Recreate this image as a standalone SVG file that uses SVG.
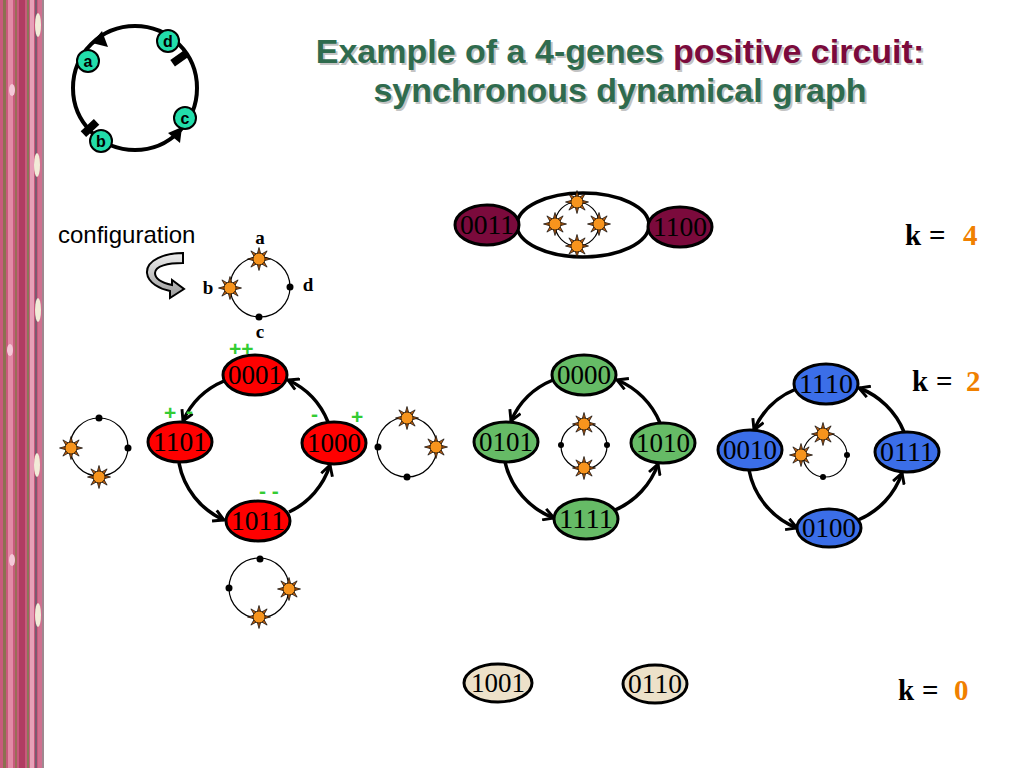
<svg xmlns="http://www.w3.org/2000/svg" xmlns:xlink="http://www.w3.org/1999/xlink" width="1024" height="768" viewBox="0 0 1024 768">
<style>
.st{font-family:"Liberation Serif","Times New Roman",serif;font-size:28px;fill:#000;text-anchor:middle}
.nd{stroke:#000;stroke-width:3}
.red{fill:#ff0000}.grn{fill:#66bb66}.blu{fill:#3b6ee8}.mar{fill:#7b0a3c}.bei{fill:#ede1c9}
.edge{fill:none;stroke:#000;stroke-width:3.5;marker-end:url(#arr)}
.sc{fill:none;stroke:#000;stroke-width:1.2}
.dot{fill:#000}
.sign{font-family:"Liberation Sans",Arial,sans-serif;font-size:21px;fill:#33cc33;font-weight:bold}
.kt{font-family:"Liberation Serif","Times New Roman",serif;font-size:29px;font-weight:bold;fill:#000}
.ko{fill:#f08000}
.title{font-family:"Liberation Sans",Arial,sans-serif;font-size:34px;font-weight:bold;text-anchor:middle}
.lbl{font-family:"Liberation Serif","Times New Roman",serif;font-size:19px;font-weight:bold;fill:#000;text-anchor:middle}
.gn{fill:#22ddaa;stroke:#000;stroke-width:2}
.gl{font-family:"Liberation Sans",Arial,sans-serif;font-size:16px;font-weight:bold;text-anchor:middle;fill:#000}
</style>
<defs>
<marker id="arr" viewBox="0 0 12 12" refX="10" refY="6" markerWidth="14" markerHeight="14" markerUnits="userSpaceOnUse" orient="auto">
<path d="M1,1 L10,6 L1,11" fill="none" stroke="#000" stroke-width="2.5"/>
</marker>
<g id="sun">
<polygon points="11.5,0 4.6,1.9 8.1,8.1 1.9,4.6 0,11.5 -1.9,4.6 -8.1,8.1 -4.6,1.9 -11.5,0 -4.6,-1.9 -8.1,-8.1 -1.9,-4.6 0,-11.5 1.9,-4.6 8.1,-8.1 4.6,-1.9" fill="#b85c10" stroke="#000" stroke-width="0.7"/>
<circle r="6" fill="#f7941d" stroke="#000" stroke-width="0.7"/>
</g>
<linearGradient id="gg" x1="0" y1="0" x2="0" y2="1">
<stop offset="0" stop-color="#eeeeee"/><stop offset="1" stop-color="#999999"/>
</linearGradient>
</defs>
<rect width="1024" height="768" fill="#fff"/>
<!-- decorative strip -->
<g id="strip">
<rect x="0" y="0" width="43" height="768" fill="#c85a7c"/>
<rect x="3" y="0" width="3" height="768" fill="#8c7050"/>
<rect x="8" y="0" width="5" height="768" fill="#e38aa6"/>
<rect x="15" y="0" width="2" height="768" fill="#9a6e58"/>
<rect x="19" y="0" width="6" height="768" fill="#b03c62"/>
<rect x="27" y="0" width="2" height="768" fill="#8a7658"/>
<rect x="30" y="0" width="4" height="768" fill="#e7a0b8"/>
<rect x="35" y="0" width="2" height="768" fill="#7c5a70"/>
<rect x="38" y="0" width="4" height="768" fill="#d07090"/>
<rect x="42" y="0" width="2" height="768" fill="#a08890"/>
<ellipse cx="38" cy="25" rx="3" ry="12" fill="#f2ecd8"/>
<ellipse cx="37" cy="165" rx="3" ry="12" fill="#f2ecd8"/>
<ellipse cx="38" cy="310" rx="3" ry="12" fill="#f2ecd8"/>
<ellipse cx="37" cy="465" rx="3" ry="12" fill="#f2ecd8"/>
<ellipse cx="38" cy="615" rx="3" ry="12" fill="#f2ecd8"/>
<ellipse cx="12" cy="90" rx="3" ry="6" fill="#f5c8d8"/>
<ellipse cx="10" cy="350" rx="3" ry="6" fill="#f5c8d8"/>
<ellipse cx="12" cy="560" rx="3" ry="6" fill="#f5c8d8"/>
</g>
<!-- title -->
<g id="title">
<text class="title" x="622" y="65" fill="#c4c4c4"><tspan>Example of a 4-genes </tspan><tspan>positive circuit:</tspan></text>
<text class="title" x="622" y="104" fill="#c4c4c4">synchronous dynamical graph</text>
<text class="title" x="620" y="63"><tspan fill="#2f6b4e">Example of a 4-genes </tspan><tspan fill="#7b0a3c">positive circuit:</tspan></text>
<text class="title" x="620" y="102" fill="#2f6b4e">synchronous dynamical graph</text>
</g>
<!-- gene circuit -->
<g id="circuit">
<circle cx="135" cy="88" r="62" fill="none" stroke="#000" stroke-width="4"/>
<polygon points="92,43 102,31 108,47" fill="#000"/>
<polygon points="182,127 168,133 180,143" fill="#000"/>
<rect x="-9" y="-4" width="18" height="8" fill="#000" transform="translate(180,58) rotate(-35)"/>
<rect x="-9" y="-4" width="18" height="8" fill="#000" transform="translate(90,128) rotate(137)"/>
<g id="gene-a"><circle class="gn" cx="88" cy="61" r="11"/><text class="gl" x="88" y="67">a</text></g>
<g id="gene-d"><circle class="gn" cx="168" cy="41" r="11"/><text class="gl" x="168" y="47">d</text></g>
<g id="gene-c"><circle class="gn" cx="185" cy="118" r="11"/><text class="gl" x="185" y="124">c</text></g>
<g id="gene-b"><circle class="gn" cx="101" cy="141" r="11"/><text class="gl" x="101" y="147">b</text></g>
</g>
<!-- configuration -->
<g id="configuration">
<text x="58" y="243" font-family="Liberation Sans, Arial, sans-serif" font-size="24" fill="#000">configuration</text>
<path d="M183,253 C165,253 146,260 147,273 C148,283 160,289 170,291 L170,298 L184,289 L172,280 L172,285 C163,283 155,279 155,273 C155,266 168,263 183,263 Z" fill="url(#gg)" stroke="#000" stroke-width="2"/>
<circle class="sc" cx="260" cy="287" r="30"/>
<use xlink:href="#sun" x="259" y="259"/>
<use xlink:href="#sun" x="230" y="288"/>
<circle class="dot" cx="290" cy="287" r="3.5"/>
<circle class="dot" cx="259" cy="317" r="3.5"/>
<text class="lbl" x="260" y="244">a</text>
<text class="lbl" x="208" y="294">b</text>
<text class="lbl" x="308" y="291">d</text>
<text class="lbl" x="260" y="338">c</text>
</g>
<!-- k=4 -->
<g id="k4-loop">
<ellipse cx="583" cy="225" rx="66" ry="32" fill="#fff" stroke="#000" stroke-width="3.5"/>
<circle class="sc" cx="577" cy="224" r="22"/>
<use xlink:href="#sun" x="577" y="202"/>
<use xlink:href="#sun" x="555" y="224"/>
<use xlink:href="#sun" x="599" y="224"/>
<use xlink:href="#sun" x="577" y="246"/>
</g>
<g id="n0011"><ellipse class="nd mar" cx="487" cy="225" rx="32" ry="20"/><text class="st" x="487" y="234" textLength="54" lengthAdjust="spacingAndGlyphs">0011</text></g>
<g id="n1100"><ellipse class="nd mar" cx="680" cy="227" rx="32" ry="20"/><text class="st" x="680" y="236" textLength="54" lengthAdjust="spacingAndGlyphs">1100</text></g>
<text class="kt" y="245"><tspan x="905">k</tspan><tspan x="929">=</tspan><tspan x="963" class="ko">4</tspan></text>
<!-- connectors -->
<g id="connectors">
<path class="edge" d="M224,381 A78,78 0 0,0 183,421"/>
<path class="edge" d="M179,463 A78,78 0 0,0 224,520"/>
<path class="edge" d="M289,512 A78,78 0 0,0 330,465"/>
<path class="edge" d="M328,422 A78,78 0 0,0 288,380"/>
<path class="edge" d="M553,380 A78,78 0 0,0 511,421"/>
<path class="edge" d="M505,462 A78,78 0 0,0 554,518"/>
<path class="edge" d="M615,510 A78,78 0 0,0 658,464"/>
<path class="edge" d="M660,423 A78,78 0 0,0 617,380"/>
<path class="edge" d="M796,389 A78,78 0 0,0 754,430"/>
<path class="edge" d="M749,470 A78,78 0 0,0 797,528"/>
<path class="edge" d="M858,520 A78,78 0 0,0 902,473"/>
<path class="edge" d="M904,432 A78,78 0 0,0 859,388"/>
</g>
<!-- red cycle -->
<g id="n0001"><ellipse class="nd red" cx="255" cy="375" rx="32" ry="20"/><text class="st" x="255" y="384" textLength="54" lengthAdjust="spacingAndGlyphs">0001</text></g>
<g id="n1101"><ellipse class="nd red" cx="180" cy="442" rx="32" ry="20"/><text class="st" x="180" y="451" textLength="54" lengthAdjust="spacingAndGlyphs">1101</text></g>
<g id="n1000"><ellipse class="nd red" cx="334" cy="443" rx="32" ry="21"/><text class="st" x="334" y="452" textLength="54" lengthAdjust="spacingAndGlyphs">1000</text></g>
<g id="n1011"><ellipse class="nd red" cx="258" cy="521" rx="32" ry="20"/><text class="st" x="258" y="530" textLength="54" lengthAdjust="spacingAndGlyphs">1011</text></g>
<g id="signs">
<text class="sign" x="229" y="356">++</text>
<text class="sign" x="164" y="420">+</text>
<text class="sign" x="186" y="418">-</text>
<text class="sign" x="311" y="421">-</text>
<text class="sign" x="351" y="424">+</text>
<text class="sign" x="259" y="498">- -</text>
</g>
<g id="cfg-1101">
<circle class="sc" cx="99" cy="447" r="29"/>
<circle class="dot" cx="99" cy="418" r="3.5"/>
<circle class="dot" cx="128" cy="448" r="3.5"/>
<use xlink:href="#sun" x="71" y="448"/>
<use xlink:href="#sun" x="99" y="477"/>
</g>
<g id="cfg-1000">
<circle class="sc" cx="407" cy="447" r="30"/>
<use xlink:href="#sun" x="407" y="418"/>
<use xlink:href="#sun" x="436" y="447"/>
<circle class="dot" cx="378" cy="447" r="3.5"/>
<circle class="dot" cx="407" cy="477" r="3.5"/>
</g>
<g id="cfg-1011">
<circle class="sc" cx="259" cy="588" r="30"/>
<circle class="dot" cx="260" cy="559" r="3.5"/>
<circle class="dot" cx="229" cy="588" r="3.5"/>
<use xlink:href="#sun" x="289" y="589"/>
<use xlink:href="#sun" x="259" y="617"/>
</g>
<!-- green cycle -->
<g id="n0000"><ellipse class="nd grn" cx="584" cy="375" rx="32" ry="20"/><text class="st" x="584" y="384" textLength="54" lengthAdjust="spacingAndGlyphs">0000</text></g>
<g id="n0101"><ellipse class="nd grn" cx="506" cy="442" rx="32" ry="20"/><text class="st" x="506" y="451" textLength="54" lengthAdjust="spacingAndGlyphs">0101</text></g>
<g id="n1010"><ellipse class="nd grn" cx="663" cy="443" rx="32" ry="20"/><text class="st" x="663" y="452" textLength="54" lengthAdjust="spacingAndGlyphs">1010</text></g>
<g id="n1111"><ellipse class="nd grn" cx="586" cy="519" rx="32" ry="20"/><text class="st" x="586" y="528" textLength="54" lengthAdjust="spacingAndGlyphs">1111</text></g>
<g id="cfg-green">
<circle class="sc" cx="584" cy="446" r="23"/>
<circle class="dot" cx="561" cy="445" r="3"/>
<circle class="dot" cx="607" cy="445" r="3"/>
<use xlink:href="#sun" x="584" y="424"/>
<use xlink:href="#sun" x="584" y="468"/>
</g>
<!-- blue cycle -->
<g id="n1110"><ellipse class="nd blu" cx="826" cy="384" rx="32" ry="20"/><text class="st" x="826" y="393" textLength="54" lengthAdjust="spacingAndGlyphs">1110</text></g>
<g id="n0010"><ellipse class="nd blu" cx="750" cy="450" rx="32" ry="20"/><text class="st" x="750" y="459" textLength="54" lengthAdjust="spacingAndGlyphs">0010</text></g>
<g id="n0111"><ellipse class="nd blu" cx="907" cy="452" rx="32" ry="20"/><text class="st" x="907" y="461" textLength="54" lengthAdjust="spacingAndGlyphs">0111</text></g>
<g id="n0100"><ellipse class="nd blu" cx="829" cy="528" rx="32" ry="19"/><text class="st" x="829" y="537" textLength="54" lengthAdjust="spacingAndGlyphs">0100</text></g>
<g id="cfg-blue">
<circle class="sc" cx="825" cy="455" r="22"/>
<use xlink:href="#sun" x="823" y="434"/>
<use xlink:href="#sun" x="801" y="455"/>
<circle class="dot" cx="847" cy="455" r="3"/>
<circle class="dot" cx="823" cy="477" r="3"/>
</g>
<text class="kt" y="391"><tspan x="912">k</tspan><tspan x="936">=</tspan><tspan x="966" class="ko">2</tspan></text>
<!-- k=0 -->
<g id="n1001"><ellipse class="nd bei" cx="498" cy="683" rx="34" ry="19"/><text class="st" x="498" y="692" textLength="54" lengthAdjust="spacingAndGlyphs">1001</text></g>
<g id="n0110"><ellipse class="nd bei" cx="655" cy="684" rx="32" ry="19"/><text class="st" x="655" y="693" textLength="54" lengthAdjust="spacingAndGlyphs">0110</text></g>
<text class="kt" y="700"><tspan x="898">k</tspan><tspan x="922">=</tspan><tspan x="954" class="ko">0</tspan></text>
</svg>
